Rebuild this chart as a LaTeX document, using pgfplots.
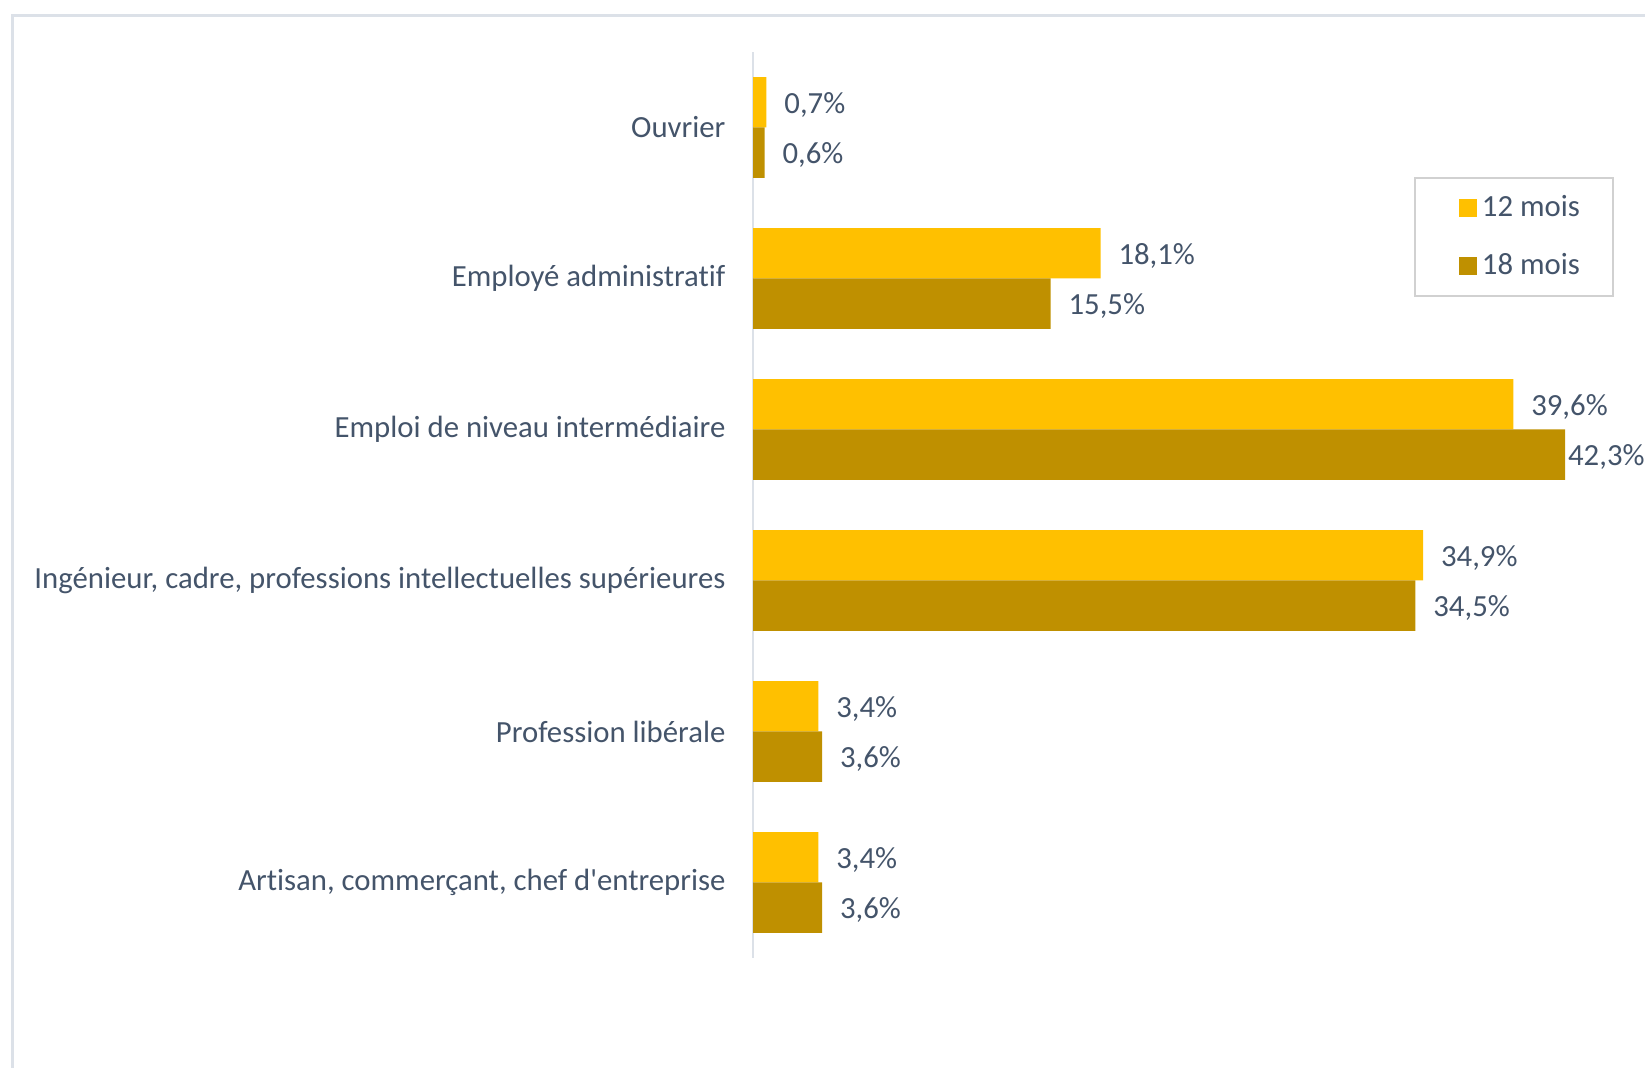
\documentclass[border=0pt]{standalone}
\usepackage{fontspec}
\setmainfont{Carlito}[Ligatures={TeXOff,NoCommon}]
\usepackage{pgfplots}
\pgfplotsset{compat=1.18}
\definecolor{txt}{HTML}{44546A}
\definecolor{c12}{HTML}{FFC000}
\definecolor{c18}{HTML}{BF9000}
\definecolor{frame}{HTML}{DCE1E8}
\begin{document}
\begin{tikzpicture}
\path[use as bounding box] (0,0) rectangle (658pt,427.2pt);
\draw[frame, line width=1.2pt] (5pt,-10pt) -- (5pt,420.8pt) -- (680pt,420.8pt);
\begin{axis}[
  at={(301.2pt,44pt)}, anchor=south west,
  scale only axis, width=356.8pt, height=362.4pt,
  xbar, bar width=20.16pt,
  xmin=0, xmax=46.46, ymin=-0.5, ymax=5.5,
  axis lines*=left,
  x axis line style={draw=none},
  y axis line style={draw=frame, line width=0.8pt},
  xtick=\empty,
  ytick={0,1,2,3,4,5},
  yticklabels={{Artisan, commerçant, chef d'entreprise}, {Profession libérale}, {Ingénieur, cadre, professions intellectuelles supérieures}, {Emploi de niveau intermédiaire}, {Employé administratif}, {Ouvrier}},
  major tick length=0pt,
  yticklabel style={font=\fontsize{12.3}{14}\selectfont, text=txt, xshift=-7.5pt},
  nodes near coords={\pgfmathprintnumber[fixed, fixed zerofill, precision=1, use comma, assume math mode=true]{\pgfplotspointmeta}\%},
  every node near coord/.append style={font=\fontsize{12.3}{14}\selectfont, text=txt, anchor=west, inner sep=0pt, xshift=7pt, yshift=-1pt},
  legend style={at={(0.741,0.862)}, anchor=north west, draw=black!18, line width=0.8pt,
    font=\fontsize{12.3}{14}\selectfont, text=txt, inner xsep=11.3pt, inner ysep=4.9pt, row sep=9.4pt},
  legend cell align=left,
  legend image code/.code={\path (0pt,0pt); \fill[#1] (6.3pt,-3.6pt) rectangle (13.5pt,3.6pt);},
]
\addplot[draw=none, fill=c12, bar shift=10.08pt] coordinates {(0.7,5) (18.1,4) (39.6,3) (34.9,2) (3.4,1) (3.4,0)};
\addlegendentry{12 mois}
\addplot[draw=none, fill=c18, bar shift=-10.08pt, coordinate style/.condition={x>40}{xshift=-6pt}] coordinates {(0.6,5) (15.5,4) (42.3,3) (34.5,2) (3.6,1) (3.6,0)};
\addlegendentry{18 mois}
\end{axis}
\end{tikzpicture}
\end{document}
